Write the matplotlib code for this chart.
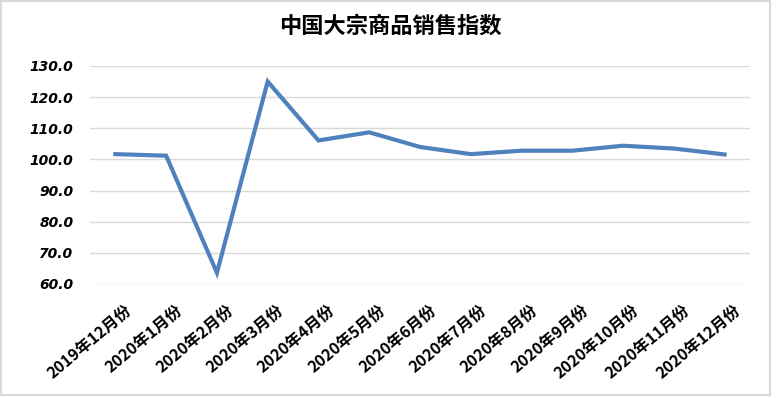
import matplotlib
matplotlib.use("Agg")
import matplotlib.pyplot as plt
from matplotlib.patches import Rectangle
import matplotlib.transforms as mtransforms

plt.rcParams['font.family'] = ['Noto Sans CJK SC', 'DejaVu Sans']

title = "中国大宗商品销售指数"
categories = ["2019年12月份", "2020年1月份", "2020年2月份", "2020年3月份", "2020年4月份",
              "2020年5月份", "2020年6月份", "2020年7月份", "2020年8月份", "2020年9月份",
              "2020年10月份", "2020年11月份", "2020年12月份"]
values = [101.7, 101.2, 63.6, 125.0, 106.1, 108.7, 104.0, 101.7, 102.8, 102.8, 104.4, 103.5, 101.6]
yticks = [60, 70, 80, 90, 100, 110, 120, 130]

fig = plt.figure(figsize=(7.76, 3.98), dpi=100)
ax = fig.add_axes([90/776, 1-284/398, 660/776, 218/398])

x = list(range(len(categories)))
ax.plot(x, values, color="#4F81BD", linewidth=3, solid_joinstyle="miter", zorder=3)

ax.set_ylim(60, 130)
ax.set_xlim(-0.5, len(categories) - 0.5)
ax.set_yticks(yticks)
ax.set_yticklabels([f"{v:.1f}" for v in yticks], fontsize=10, fontweight="bold",
                   fontstyle="italic", family=["DejaVu Sans"])
ax.yaxis.grid(True, color="#D9D9D9", linewidth=1)
ax.set_axisbelow(True)
for s in ax.spines.values():
    s.set_visible(False)
ax.tick_params(axis="both", length=0)
ax.tick_params(axis="y", pad=12)

ax.set_xticks(x)
ax.set_xticklabels(categories, rotation=40, ha="right", va="top",
                   rotation_mode="anchor", fontsize=11.5, fontweight="bold")
offset = mtransforms.ScaledTranslation(9/100, -13/100, fig.dpi_scale_trans)
for lab in ax.get_xticklabels():
    lab.set_transform(lab.get_transform() + offset)

fig.text(390/776, 1-26/398, title, ha="center", va="center", fontsize=16,
         fontweight="bold")

fig.patches.append(Rectangle((1/776, 3/398), 769/776, 394/398, transform=fig.transFigure,
                             fill=False, edgecolor="#D9D9D9", linewidth=1.5))

fig.savefig("out.png", dpi=100)
